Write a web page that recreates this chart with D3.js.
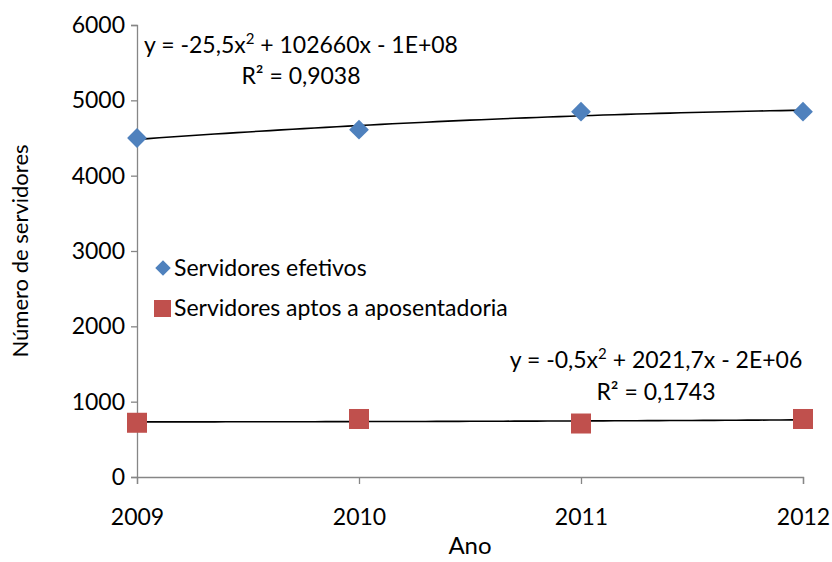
<!DOCTYPE html>
<html>
<head>
<meta charset="utf-8">
<script src="https://cdn.jsdelivr.net/npm/d3@7"></script>
<style>
  body { margin: 0; background: #fff; }
  svg text { font-family: Lato, "Open Sans", sans-serif; fill: #000; }
</style>
</head>
<body>
<svg id="chart" width="832" height="562"></svg>
<script>
// data
const years = [2009, 2010, 2011, 2012];
const efetivos = [4500, 4610, 4850, 4850];
const aptos = [720, 770, 710, 770];
const yTicks = [0, 1000, 2000, 3000, 4000, 5000, 6000];
const seriesNames = ["Servidores efetivos", "Servidores aptos a aposentadoria"];
const eqEfetivos = ["y = -25,5x", " + 102660x - 1E+08", "R² = 0,9038"];
const eqAptos = ["y = -0,5x", " + 2021,7x - 2E+06", "R² = 0,1743"];

const margin = { top: 25, right: 29, bottom: 85, left: 137 },
  width = 832 - margin.left - margin.right,
  height = 562 - margin.top - margin.bottom;

const svg = d3.select("#chart");
const g = svg.append("g")
  .attr("transform", "translate(" + margin.left + "," + margin.top + ")");

const x = d3.scaleLinear().domain([2009, 2012]).range([0, width]);
const y = d3.scaleLinear().domain([0, 6000]).range([height, 0]);

// quadratic least squares (centered x) for the trend lines
function quadFit(xs, ys) {
  const m = d3.mean(xs);
  const t = xs.map(v => v - m);
  const s = k => d3.sum(t, v => Math.pow(v, k));
  const sy = k => d3.sum(t, (v, i) => Math.pow(v, k) * ys[i]);
  const A = [[t.length, s(1), s(2)], [s(1), s(2), s(3)], [s(2), s(3), s(4)]];
  const b = [sy(0), sy(1), sy(2)];
  for (let i = 0; i < 3; i++) {
    for (let j = i + 1; j < 3; j++) {
      const f = A[j][i] / A[i][i];
      for (let k = i; k < 3; k++) A[j][k] -= f * A[i][k];
      b[j] -= f * b[i];
    }
  }
  const c = [0, 0, 0];
  for (let i = 2; i >= 0; i--) {
    let v = b[i];
    for (let k = i + 1; k < 3; k++) v -= A[i][k] * c[k];
    c[i] = v / A[i][i];
  }
  return xv => c[0] + c[1] * (xv - m) + c[2] * (xv - m) * (xv - m);
}

// axes
const axisColor = "#868686";
const yAxis = g.append("g")
  .call(d3.axisLeft(y).tickValues(yTicks).tickSize(6).tickPadding(6).tickFormat(d3.format("d")));
const xAxis = g.append("g")
  .attr("transform", "translate(0," + height + ")")
  .call(d3.axisBottom(x).tickValues(years).tickSize(7).tickPadding(25).tickFormat(d3.format("d")));
[yAxis, xAxis].forEach(a => {
  a.select(".domain").attr("stroke", axisColor).attr("stroke-width", 1.3);
  a.selectAll(".tick line").attr("stroke", axisColor).attr("stroke-width", 1.3);
  a.selectAll(".tick text").style("font-size", "23px").attr("fill", "#000");
});

// trend lines
const line = d3.line().x(d => x(d[0])).y(d => y(d[1]));
[efetivos, aptos].forEach(vals => {
  const f = quadFit(years, vals);
  const pts = d3.range(0, 61).map(i => { const xv = 2009 + i * 0.05; return [xv, f(xv)]; });
  g.append("path").datum(pts)
    .attr("d", line)
    .attr("fill", "none")
    .attr("stroke", "#000")
    .attr("stroke-width", 1.6);
});

// markers
g.selectAll(".ef").data(years).enter().append("rect")
  .attr("class", "ef")
  .attr("x", -7).attr("y", -7).attr("width", 14).attr("height", 14)
  .attr("transform", (d, i) => "translate(" + x(d) + "," + y(efetivos[i]) + ") rotate(45)")
  .attr("fill", "#4f81bd");
g.selectAll(".ap").data(years).enter().append("rect")
  .attr("class", "ap")
  .attr("x", d => x(d) - 10)
  .attr("y", (d, i) => y(aptos[i]) - 10)
  .attr("width", 20).attr("height", 20)
  .attr("fill", "#c0504d");

// equation labels
function eqLabel(lines, cx, y1, y2) {
  const t = svg.append("text").attr("x", cx).attr("y", y1)
    .attr("text-anchor", "middle").style("font-size", "23px");
  t.append("tspan").text(lines[0]);
  t.append("tspan").text("2").attr("dy", -9).style("font-size", "15px");
  t.append("tspan").text(lines[1]).attr("dy", 9);
  svg.append("text").attr("x", cx).attr("y", y2)
    .attr("text-anchor", "middle").style("font-size", "23px").text(lines[2]);
}
eqLabel(eqEfetivos, 301, 53, 84);
eqLabel(eqAptos, 656, 368, 400);

// legend
const legend = svg.append("g");
legend.append("rect")
  .attr("x", -5.5).attr("y", -5.5).attr("width", 11).attr("height", 11)
  .attr("transform", "translate(163,268) rotate(45)")
  .attr("fill", "#4f81bd");
legend.append("rect")
  .attr("x", 154).attr("y", 300).attr("width", 17).attr("height", 17)
  .attr("fill", "#c0504d");
legend.selectAll(".lt").data(seriesNames).enter().append("text")
  .attr("x", 174)
  .attr("y", (d, i) => 276 + i * 40)
  .style("font-size", "23px")
  .text(d => d);

// axis titles
svg.append("text")
  .attr("x", 470).attr("y", 554)
  .attr("text-anchor", "middle").style("font-size", "24px")
  .text("Ano");
svg.append("text")
  .attr("transform", "translate(28,251) rotate(-90)")
  .attr("text-anchor", "middle").style("font-size", "22px")
  .text("Número de servidores");
</script>
</body>
</html>
